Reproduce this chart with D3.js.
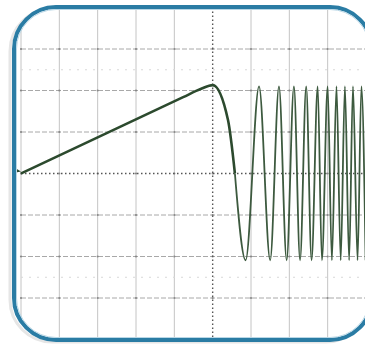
<!DOCTYPE html>
<html>
<head>
<meta charset="utf-8">
<script src="https://cdn.jsdelivr.net/npm/d3@7"></script>
<style>
  body { margin: 0; background: #fff; }
  svg { display: block; }
</style>
</head>
<body>
<svg id="fig" width="365" height="344"></svg>
<script>
// signal, x in divisions, y in divisions (volts/div)
const rampX = [0, 4.23, 4.7, 5.0, 5.4, 5.58];
const rampY = [0, 1.84, 2.04, 2.13, 1.29, 0];
const chirpX = [5.86, 6.21, 6.50, 6.73, 6.93, 7.12, 7.28, 7.44, 7.58, 7.74, 7.85,
                8.00, 8.11, 8.23, 8.34, 8.45, 8.56, 8.66, 8.78, 8.88, 8.99];
const chirpY = [-2.09, 2.1, -2.09, 2.1, -2.09, 2.1, -2.09, 2.1, -2.09, 2.1, -2.09,
                2.1, -2.09, 2.1, -2.09, 2.1, -2.09, 2.1, -2.09, 2.1, -2.09];
const xDivs = d3.range(0, 10);
const yDivs = d3.range(-4, 5);
const minorY = [-2.5, 2.5];

const svg = d3.select('#fig');
const frame = { x: 14, y: 7, w: 358, h: 333, r: 42 };

const x = d3.scaleLinear().domain([0, 9]).range([21, 366]);
const y = d3.scaleLinear().domain([-4, 4]).range([339.5, 7.5]);

svg.append('defs').append('clipPath').attr('id', 'clip')
    .append('rect')
    .attr('x', frame.x).attr('y', frame.y)
    .attr('width', frame.w).attr('height', frame.h)
    .attr('rx', frame.r);

// faint shadow left of the frame
svg.append('rect')
    .attr('x', frame.x - 4).attr('y', frame.y + 2)
    .attr('width', frame.w).attr('height', frame.h)
    .attr('rx', frame.r)
    .attr('fill', 'none').attr('stroke', '#e6e6e6').attr('stroke-width', 3);

const g = svg.append('g').attr('clip-path', 'url(#clip)');
g.append('rect')
    .attr('x', frame.x).attr('y', frame.y)
    .attr('width', frame.w).attr('height', frame.h)
    .attr('fill', '#fff');

// vertical grid
g.selectAll('.vg').data(xDivs.filter(d => d !== 5)).join('line')
    .attr('class', 'vg')
    .attr('x1', d => x(d)).attr('x2', d => x(d))
    .attr('y1', y(4)).attr('y2', y(-4))
    .attr('stroke', '#c4c4c4').attr('stroke-width', 1);

// horizontal grid (dashed)
g.selectAll('.hg').data(yDivs.filter(d => d !== 0)).join('line')
    .attr('class', 'hg')
    .attr('x1', x(0)).attr('x2', x(9))
    .attr('y1', d => y(d)).attr('y2', d => y(d))
    .attr('stroke', '#a8a8a8').attr('stroke-width', 1)
    .attr('stroke-dasharray', '5,2');

// faint dotted minor lines
g.selectAll('.mg').data(minorY).join('line')
    .attr('class', 'mg')
    .attr('x1', x(0)).attr('x2', x(9))
    .attr('y1', d => y(d)).attr('y2', d => y(d))
    .attr('stroke', '#d8d8d8').attr('stroke-width', 1)
    .attr('stroke-dasharray', '2,6');

// dots where grid lines cross
const cross = [];
xDivs.forEach(a => yDivs.forEach(b => cross.push([a, b])));
g.selectAll('.dot').data(cross).join('circle')
    .attr('class', 'dot')
    .attr('cx', d => x(d[0])).attr('cy', d => y(d[1]))
    .attr('r', 1.1).attr('fill', '#888');

// centre axes, dotted
g.append('line')
    .attr('x1', x(5)).attr('x2', x(5)).attr('y1', y(4)).attr('y2', y(-4))
    .attr('stroke', '#555').attr('stroke-width', 1.4)
    .attr('stroke-dasharray', '1.5,2.5');
g.append('line')
    .attr('x1', x(0)).attr('x2', x(9)).attr('y1', y(0)).attr('y2', y(0))
    .attr('stroke', '#555').attr('stroke-width', 1.4)
    .attr('stroke-dasharray', '1.5,2.5');

// signal
const line = d3.line().x(d => x(d[0])).y(d => y(d[1])).curve(d3.curveMonotoneX);
const ramp = rampX.map((v, i) => [v, rampY[i]]);
const chirp = [[rampX[rampX.length - 1], rampY[rampY.length - 1]]]
    .concat(chirpX.map((v, i) => [v, chirpY[i]]));

g.append('path').datum(chirp)
    .attr('d', line)
    .attr('fill', 'none').attr('stroke', '#3d5a3f').attr('stroke-width', 1.8);
g.append('path').datum(ramp)
    .attr('d', line)
    .attr('fill', 'none').attr('stroke', '#2c4a2e').attr('stroke-width', 2.6);

// ground marker
g.append('path')
    .attr('d', `M${x(0) - 5},${y(0) - 5} l5,3 l-5,1 z`)
    .attr('fill', '#2c4a2e');

// frame
svg.append('rect')
    .attr('x', frame.x).attr('y', frame.y)
    .attr('width', frame.w).attr('height', frame.h)
    .attr('rx', frame.r)
    .attr('fill', 'none').attr('stroke', '#2a7ca4').attr('stroke-width', 4);
svg.append('rect')
    .attr('x', frame.x + 2.5).attr('y', frame.y + 2.5)
    .attr('width', frame.w - 5).attr('height', frame.h - 5)
    .attr('rx', frame.r - 2.5)
    .attr('fill', 'none').attr('stroke', '#b9d7e6').attr('stroke-width', 1);
</script>
</body>
</html>
